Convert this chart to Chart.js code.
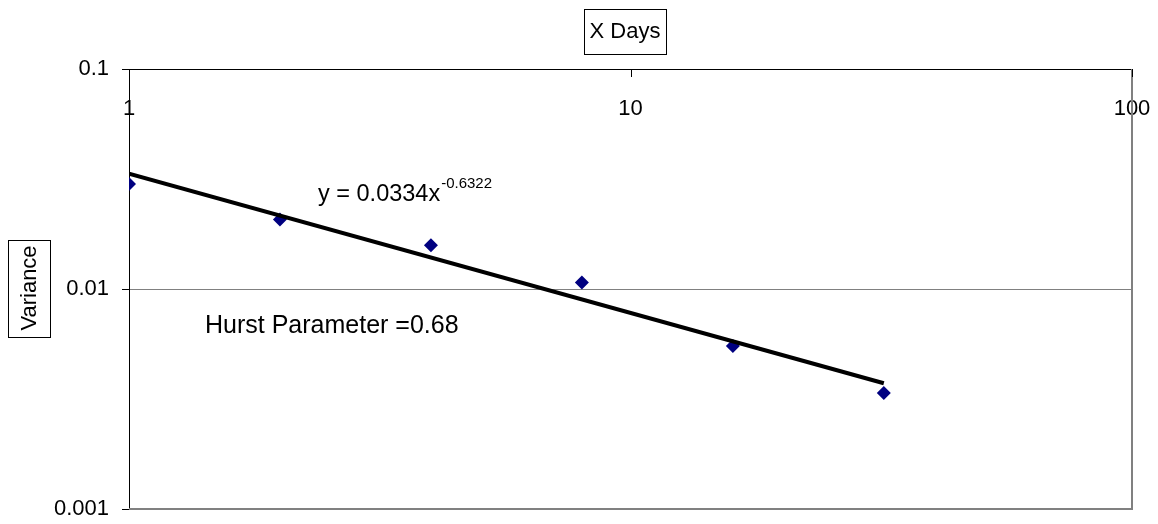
<!DOCTYPE html>
<html>
<head>
<meta charset="utf-8">
<script src="https://cdn.jsdelivr.net/npm/chart.js@4/dist/chart.umd.min.js"></script>
<style>
    html, body { margin: 0; padding: 0; background: #ffffff; }
    #wrap { width: 1158px; height: 524px; }
</style>
</head>
<body>
<div id="wrap"><canvas id="hurstChart" width="1158" height="524"></canvas></div>
<script>
// data
const days = [1, 2, 4, 8, 16, 32];
const variance = [0.0300, 0.0207, 0.0158, 0.0107, 0.0055, 0.00337];

// power trend line ends (y = 0.0334x^-0.6322, from first to last day)
const trendDays = [1, 32];
const trendVariance = [0.0334, 0.00373];

const xTicks = [1, 10, 100];
const xTickLabels = ["1", "10", "100"];
const yTicks = [0.001, 0.01, 0.1];
const yTickLabels = ["0.001", "0.01", "0.1"];

const FONT = "'Liberation Sans', Arial, sans-serif";

// boxed axis titles, equation text, inward x ticks, grey right/bottom frame
const extras = {
    id: "extras",
    beforeDatasetsDraw(chart) {
        const ctx = chart.ctx;
        const a = chart.chartArea;
        ctx.save();
        ctx.strokeStyle = "#808080";
        ctx.lineWidth = 2;
        ctx.beginPath();
        ctx.moveTo(a.left, a.bottom);
        ctx.lineTo(a.right, a.bottom);
        ctx.lineTo(a.right, a.top);
        ctx.stroke();

        // x ticks point down into the plot
        const xs = chart.scales.x;
        ctx.strokeStyle = "#000000";
        ctx.lineWidth = 1;
        xTicks.forEach(function (v) {
            const px = Math.round(xs.getPixelForValue(v)) + 0.5;
            ctx.beginPath();
            ctx.moveTo(px, a.top);
            ctx.lineTo(px, a.top + 8);
            ctx.stroke();
        });
        ctx.restore();
    },
    afterDraw(chart) {
        const ctx = chart.ctx;
        ctx.save();
        ctx.fillStyle = "#000000";
        ctx.strokeStyle = "#000000";
        ctx.lineWidth = 1;

        // X Days
        ctx.font = "22px " + FONT;
        ctx.textAlign = "center";
        ctx.textBaseline = "middle";
        ctx.fillText("X Days", 625, 32);
        ctx.strokeRect(584.5, 9.5, 82, 45);

        // Variance
        ctx.save();
        ctx.translate(29, 288);
        ctx.rotate(-Math.PI / 2);
        ctx.fillText("Variance", 0, 1);
        ctx.restore();
        ctx.strokeRect(8.5, 240.5, 42, 97);

        // equation
        ctx.textAlign = "left";
        ctx.textBaseline = "alphabetic";
        ctx.font = "23.5px " + FONT;
        const eq = "y = 0.0334x";
        ctx.fillText(eq, 318, 201);
        const w = ctx.measureText(eq).width;
        ctx.font = "15px " + FONT;
        ctx.fillText("-0.6322", 318 + w + 1, 188);

        // Hurst parameter
        ctx.font = "25px " + FONT;
        ctx.fillText("Hurst Parameter =0.68", 205, 333);
        ctx.restore();
    }
};

const ctx = document.getElementById("hurstChart");

const myChart = new Chart(ctx, {
    type: "scatter",
    data: {
        datasets: [
            {
                label: "Variance",
                data: days.map(function (d, i) { return { x: d, y: variance[i] }; }),
                pointStyle: "rectRot",
                pointRadius: 7,
                pointBackgroundColor: "#000080",
                pointBorderColor: "#000080",
                pointBorderWidth: 0,
                showLine: false,
                order: 1
            },
            {
                type: "line",
                label: "Power trend",
                data: trendDays.map(function (d, i) { return { x: d, y: trendVariance[i] }; }),
                borderColor: "#000000",
                borderWidth: 4,
                pointRadius: 0,
                fill: false,
                order: 0
            }
        ]
    },
    options: {
        responsive: false,
        animation: false,
        layout: { padding: { left: 0, top: 0, right: 26, bottom: 15 } },
        plugins: {
            legend: { display: false },
            tooltip: { enabled: false },
            title: { display: false }
        },
        scales: {
            x: {
                type: "logarithmic",
                position: "top",
                min: 1,
                max: 100,
                afterBuildTicks: function (scale) {
                    scale.ticks = xTicks.map(function (v) { return { value: v }; });
                },
                afterFit: function (scale) {
                    scale.height = 69;
                    scale.paddingLeft = 0;
                    scale.paddingRight = 0;
                },
                ticks: {
                    autoSkip: false,
                    maxRotation: 0,
                    mirror: true,
                    padding: 27,
                    color: "#000000",
                    font: { family: FONT, size: 22 },
                    callback: function (v, i) { return xTickLabels[i]; }
                },
                grid: { display: false, drawTicks: false },
                border: { display: true, color: "#000000", width: 1 }
            },
            y: {
                type: "logarithmic",
                min: 0.001,
                max: 0.1,
                afterBuildTicks: function (scale) {
                    scale.ticks = yTicks.map(function (v) { return { value: v }; });
                },
                afterFit: function (scale) {
                    scale.width = 129;
                    scale.paddingTop = 0;
                    scale.paddingBottom = 0;
                },
                ticks: {
                    autoSkip: false,
                    padding: 13,
                    color: "#000000",
                    font: { family: FONT, size: 22 },
                    callback: function (v, i) { return yTickLabels[i]; }
                },
                grid: {
                    drawTicks: true,
                    tickLength: 7,
                    tickColor: "#000000",
                    color: function (c) {
                        return c.tick && c.tick.value === 0.01 ? "#808080" : "rgba(0,0,0,0)";
                    },
                    lineWidth: 1
                },
                border: { display: true, color: "#000000", width: 1 }
            }
        }
    },
    plugins: [extras]
});
</script>
</body>
</html>
